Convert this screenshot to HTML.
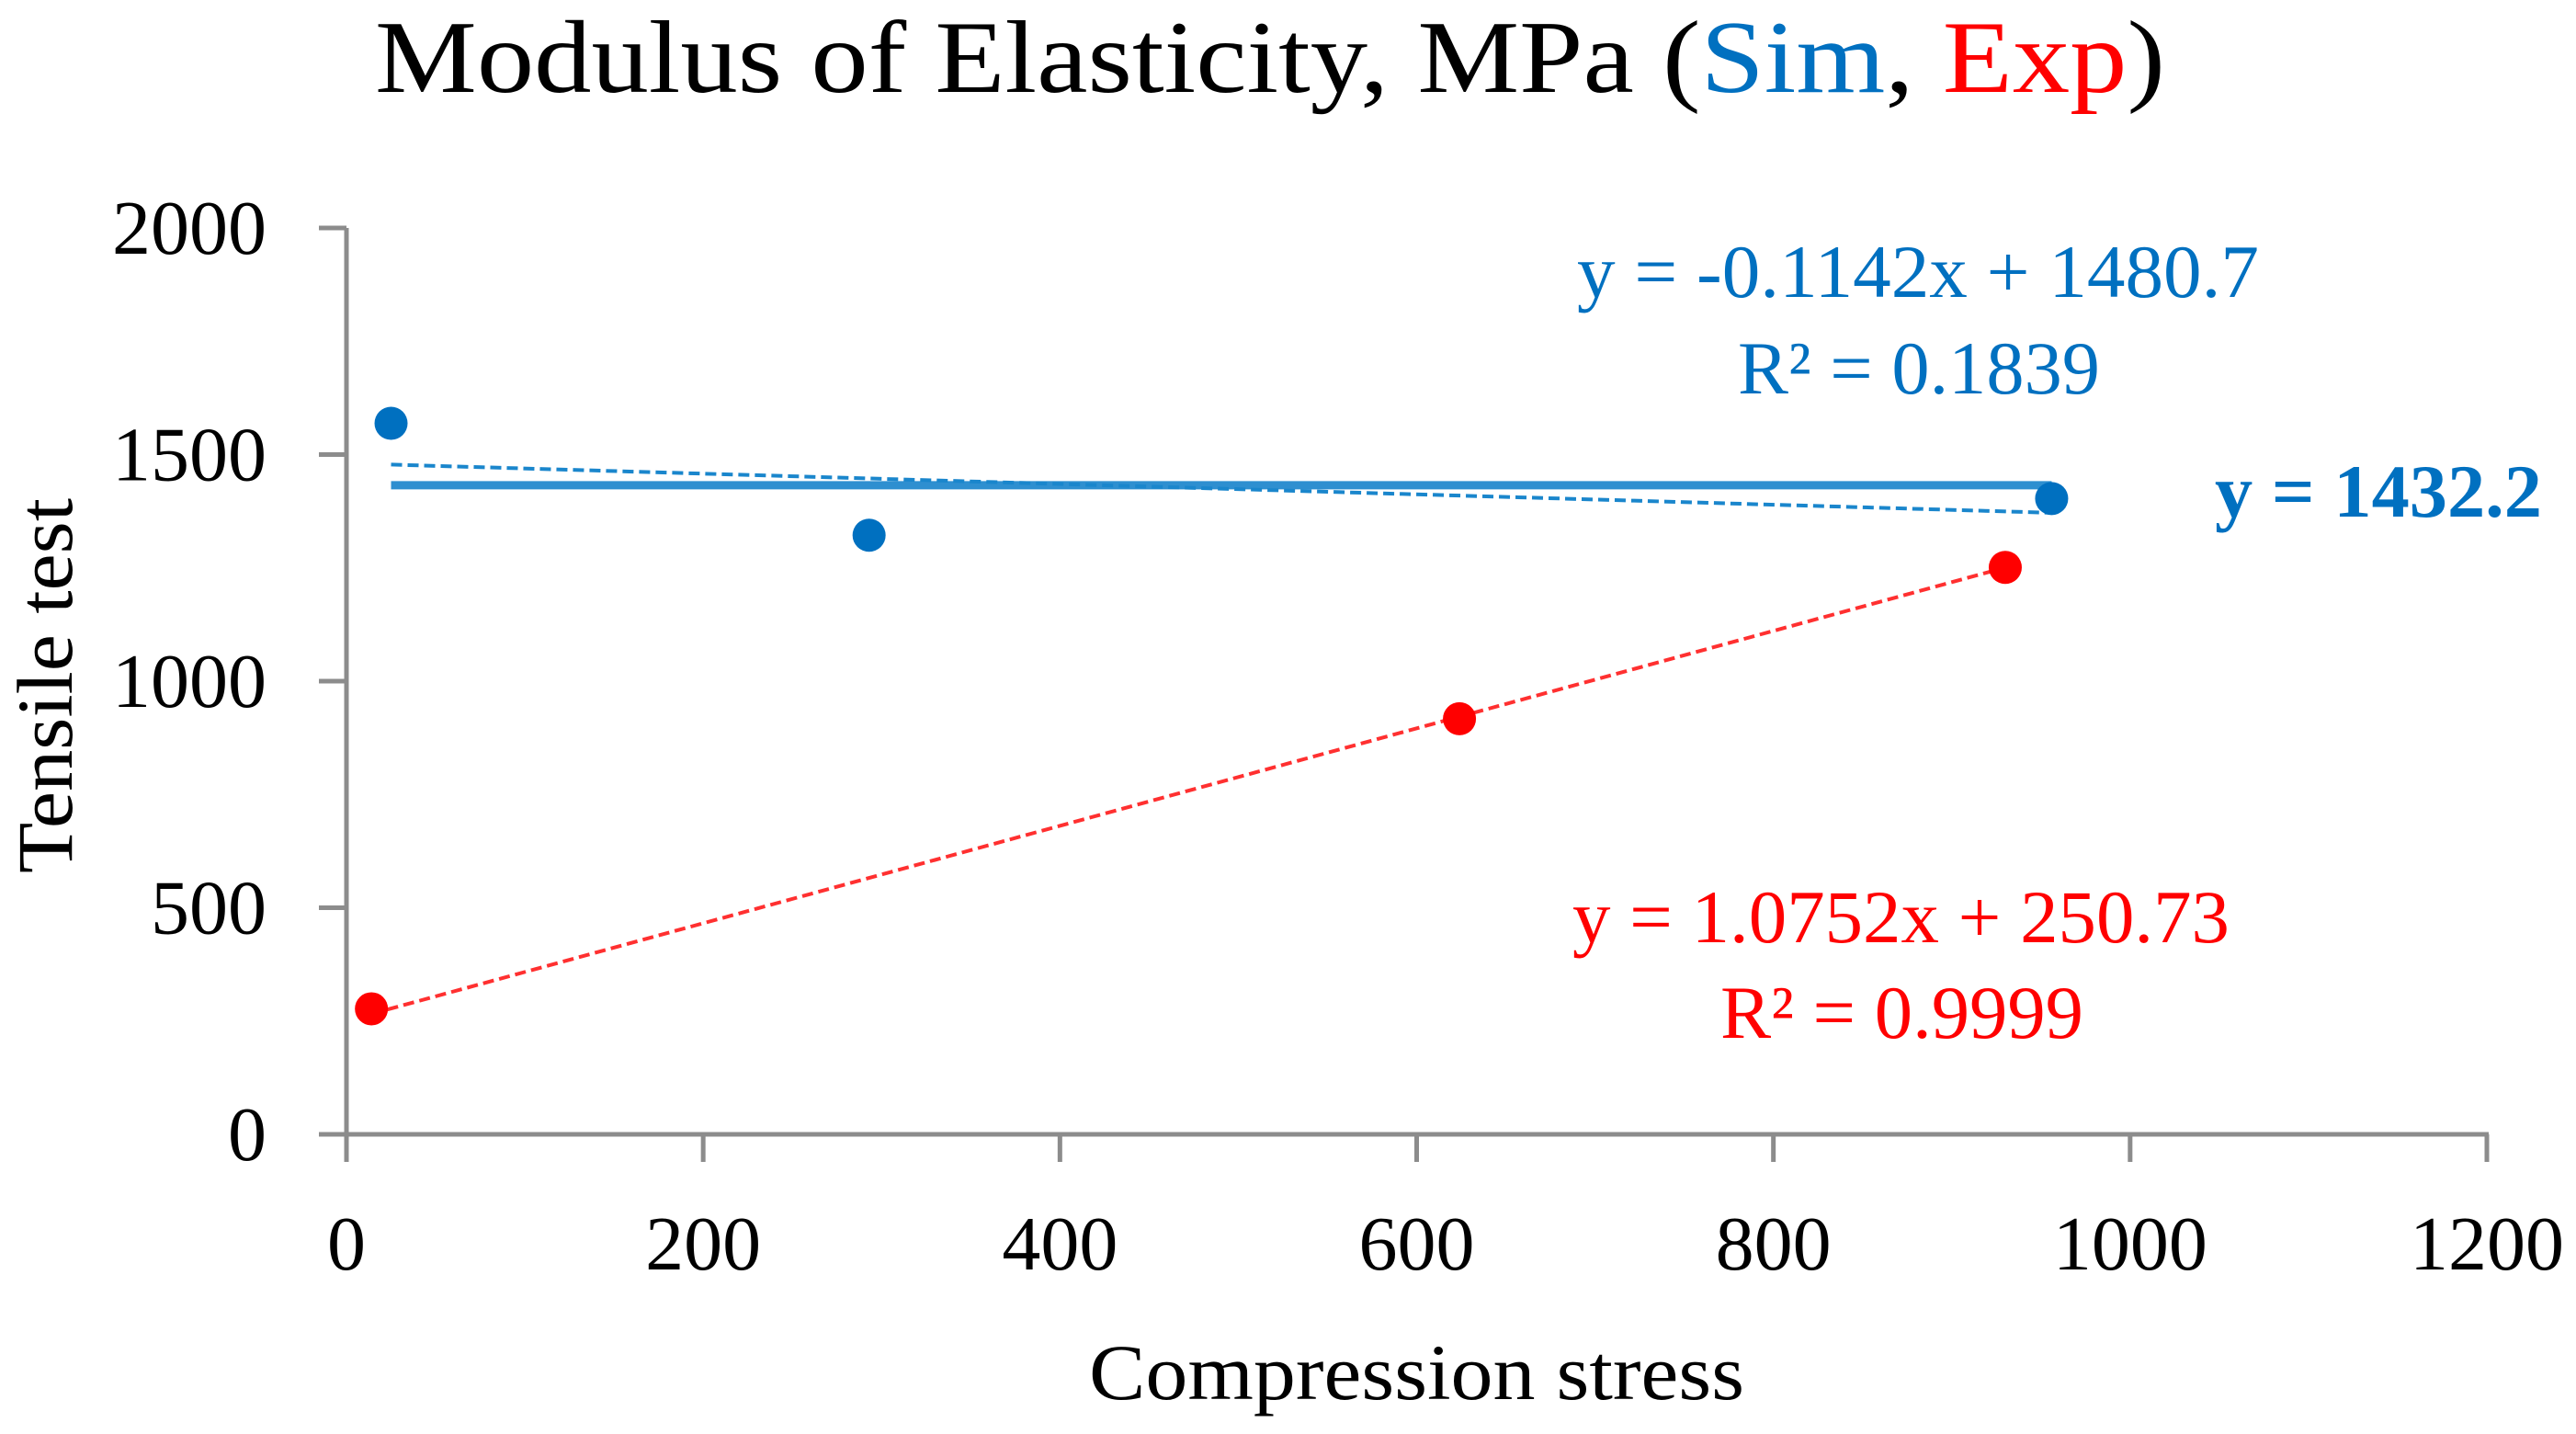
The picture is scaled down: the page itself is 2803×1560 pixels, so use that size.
<!DOCTYPE html>
<html><head><meta charset="utf-8"><style>
html,body{margin:0;padding:0;background:#fff;}
svg{display:block;font-family:"Liberation Serif",serif;}
</style></head><body>
<svg id="chart" width="2803" height="1560" viewBox="0 0 2803 1560" xmlns="http://www.w3.org/2000/svg">
<text x="408" y="100" font-size="112" textLength="1948" lengthAdjust="spacingAndGlyphs" fill="#000">Modulus of Elasticity, MPa (<tspan fill="#0070c0">Sim</tspan>, <tspan fill="#ff0000">Exp</tspan>)</text>
<g id="axes"></g>
<g id="marks"></g>
<text x="1185" y="1522" font-size="86" textLength="713" lengthAdjust="spacingAndGlyphs">Compression stress</text>
<text transform="translate(78,746) rotate(-90)" text-anchor="middle" font-size="86" textLength="408" lengthAdjust="spacingAndGlyphs">Tensile test</text>
<text x="1716" y="323" font-size="82" fill="#0070c0" textLength="742" lengthAdjust="spacingAndGlyphs">y = -0.1142x + 1480.7</text>
<text x="1891" y="428" font-size="82" fill="#0070c0" textLength="394" lengthAdjust="spacingAndGlyphs">R² = 0.1839</text>
<text x="2410" y="562" font-size="82" font-weight="bold" fill="#0070c0" textLength="356" lengthAdjust="spacingAndGlyphs">y = 1432.2</text>
<text x="1711" y="1025" font-size="82" fill="#ff0000" textLength="715" lengthAdjust="spacingAndGlyphs">y = 1.0752x + 250.73</text>
<text x="1872" y="1129" font-size="82" fill="#ff0000" textLength="395" lengthAdjust="spacingAndGlyphs">R² = 0.9999</text>
</svg>
<script>
const xTicks = [0, 200, 400, 600, 800, 1000, 1200];
const yTicks = [0, 500, 1000, 1500, 2000];
const simX = [25, 293, 956];
const simY = [1569, 1322, 1403];
const expX = [14, 624, 930];
const expY = [277, 917, 1251];
const simSlope = -0.1142, simIntercept = 1480.7;
const simMean = 1432.2;
const expSlope = 1.0752, expIntercept = 250.73;

const NS = "http://www.w3.org/2000/svg";
const X0 = 377, X1 = 2706, Y0 = 1234, Y1 = 248;
function sx(v){ return X0 + (v - 0) / 1200 * (X1 - X0); }
function sy(v){ return Y0 - (v - 0) / 2000 * (Y0 - Y1); }
function mk(tag, attrs, parent){
  const e = document.createElementNS(NS, tag);
  for (const k in attrs) e.setAttribute(k, attrs[k]);
  parent.appendChild(e); return e;
}
const axes = document.getElementById('axes');
const marks = document.getElementById('marks');
const gray = "#8c8c8c";
let e;
e = mk('line', {x1:X0, y1:Y1, x2:X0, y2:Y0+4, stroke:gray, 'stroke-width':5}, axes);


e = mk('line', {x1:X0-2, y1:Y0, x2:X1+2, y2:Y0, stroke:gray, 'stroke-width':5}, axes);


yTicks.forEach(t => {
  const y = sy(t);
  e = mk('line', {x1:X0-30, y1:y, x2:X0, y2:y, stroke:gray, 'stroke-width':5}, axes);
  
  
  e = mk('text', {x:290, y:y+28, 'text-anchor':'end', 'font-size':84, fill:'#000'}, axes);
  e.textContent = String(t);
  
  
});
xTicks.forEach(t => {
  const x = sx(t);
  e = mk('line', {x1:x, y1:Y0, x2:x, y2:Y0+30, stroke:gray, 'stroke-width':5}, axes);
  
  
  e = mk('text', {x:x, y:1381, 'text-anchor':'middle', 'font-size':84, fill:'#000'}, axes);
  e.textContent = String(t);
  
  
});
// sim mean line (solid)
const sxMin = Math.min(...simX), sxMax = Math.max(...simX);
e = mk('line', {x1:sx(sxMin), y1:sy(simMean), x2:sx(sxMax), y2:sy(simMean), stroke:'#2e8fd0', 'stroke-width':9}, marks);


// sim trend (dashed)
e = mk('line', {x1:sx(sxMin), y1:sy(simSlope*sxMin+simIntercept), x2:sx(sxMax), y2:sy(simSlope*sxMax+simIntercept), stroke:'#1a86cc', 'stroke-width':4, 'stroke-dasharray':'12 6'}, marks);


// exp trend
const exMin = Math.min(...expX), exMax = Math.max(...expX);
e = mk('line', {x1:sx(exMin), y1:sy(expSlope*exMin+expIntercept), x2:sx(exMax), y2:sy(expSlope*exMax+expIntercept), stroke:'#ff3030', 'stroke-width':4, 'stroke-dasharray':'12 6'}, marks);


simX.forEach((x, i) => {
  e = mk('circle', {cx:sx(x), cy:sy(simY[i]), r:18, fill:'#0070c0'}, marks);
  
  
});
expX.forEach((x, i) => {
  e = mk('circle', {cx:sx(x), cy:sy(expY[i]), r:18, fill:'#ff0000'}, marks);
  
  
});
</script>
</body></html>
